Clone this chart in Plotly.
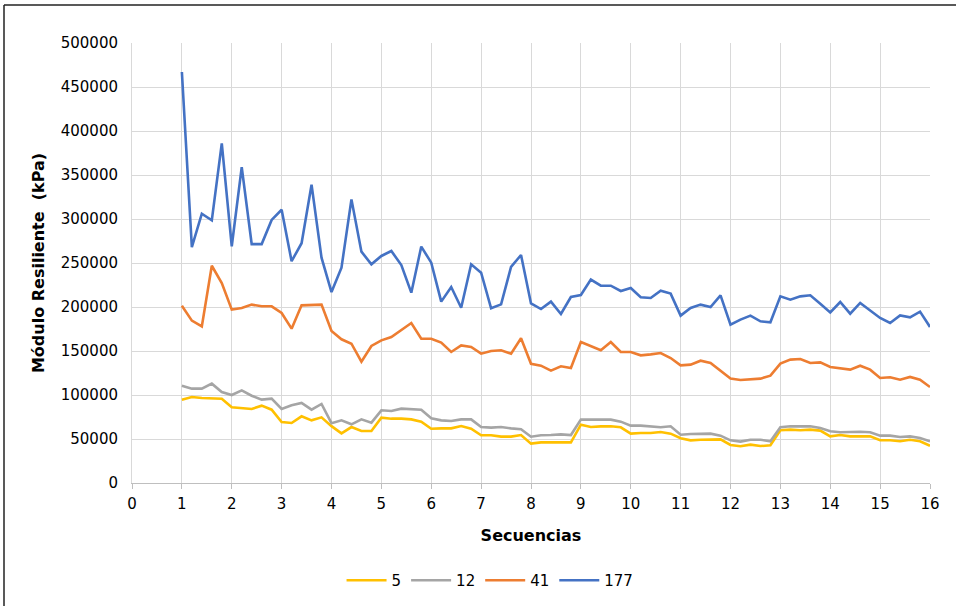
import plotly.graph_objects as go

# Secuencias (eje x)
secuencias = [1.0, 1.2, 1.4, 1.6, 1.8, 2.0, 2.2, 2.4, 2.6, 2.8,
              3.0, 3.2, 3.4, 3.6, 3.8, 4.0, 4.2, 4.4, 4.6, 4.8,
              5.0, 5.2, 5.4, 5.6, 5.8, 6.0, 6.2, 6.4, 6.6, 6.8,
              7.0, 7.2, 7.4, 7.6, 7.8, 8.0, 8.2, 8.4, 8.6, 8.8,
              9.0, 9.2, 9.4, 9.6, 9.8, 10.0, 10.2, 10.4, 10.6, 10.8,
              11.0, 11.2, 11.4, 11.6, 11.8, 12.0, 12.2, 12.4, 12.6, 12.8,
              13.0, 13.2, 13.4, 13.6, 13.8, 14.0, 14.2, 14.4, 14.6, 14.8,
              15.0, 15.2, 15.4, 15.6, 15.8, 16.0]

# Módulo resiliente (kPa) por serie
mr_5 = [94700, 97700, 96600, 96600, 95800, 86000, 85200, 84100, 87900, 83300,
        69300, 68200, 75800, 71200, 74600,
        64600, 56400, 63600, 59100, 59100, 74200, 73100, 73100, 72300, 69700,
        61700, 62100, 62100, 64800, 61700, 54200, 54200, 52700, 52700, 54500,
        44700, 46200, 46200, 47000, 46200, 66300, 63600, 64400, 64400, 63300,
        56100, 56800, 56800, 58000, 56100, 50800, 48500, 49200, 49600, 49600,
        43200, 41700, 43600, 42000, 42800, 59900, 60600, 59900, 60600, 59500,
        53000, 54500, 53000, 53000, 53000, 48500, 48500, 47400, 49200, 47400,
        42400]

mr_12 = [110600, 107200, 107200, 112900, 103400, 100000, 105300, 99200, 94700, 95800,
         84100, 88300, 90900, 83300, 89800,
         68000, 71200, 66700, 72300, 68600, 82600, 81800, 84500, 83700, 83300,
         73500, 71200, 70400, 72300, 72300, 63600, 62900, 63600, 62100, 61000,
         52600, 54200, 54500, 55300, 54500, 72000, 72000, 72000, 72000, 69700,
         65200, 65200, 64400, 63300, 64400, 54900, 55700, 55700, 56100, 53800,
         48500, 47000, 49200, 49200, 47400, 63300, 64400, 64400, 64400, 62500,
         58700, 57600, 58300, 58300, 57600, 53800, 53800, 52300, 53000, 51100,
         47400]

mr_41 = [201500, 184500, 178000, 246900, 227300, 197000, 198900, 202700, 200800, 200800,
         193200, 175400, 201900, 202700, 202700,
         172700, 163300, 158300, 137900, 155700, 162100, 165900, 173500, 181800, 164000,
         164000, 159500, 148900, 156400, 154500, 147000, 150000, 150800, 147000, 164400,
         135500, 133300, 127700, 132600, 130700, 160200, 155300, 150800, 160200, 148900,
         148900, 145100, 146200, 147700, 142000, 133700, 134500, 139000, 136400, 128000,
         118600, 117000, 118200, 118600, 122000, 135600, 140200, 140900, 136400, 137100,
         131800, 129900, 128800, 133300, 128800, 119300, 120100, 117400, 120500, 117400,
         109100]

mr_177 = [467000, 268000, 306000, 298500, 386000, 269000, 359000, 271500, 271500, 299000,
          310500, 252000, 272500, 339000, 256000,
          217000, 244700, 322300, 262900, 248500, 258000, 263600, 247700, 216300, 268600,
          250400, 206100, 222700, 199200, 248500, 239000, 198500, 203000, 245500, 259100,
          204000, 197700, 206100, 192100, 211400, 213600, 231100, 224200, 224200, 218200,
          221600, 211000, 210200, 218600, 215200, 190200, 198900, 202700, 200000, 213300,
          179900, 185600, 190200, 183700, 182600, 212100, 208300, 212100, 213300, 203800,
          193900, 205700, 192400, 204600, 196200, 187500, 181800, 190500, 188300, 194700,
          177300]

series = [("5", mr_5, "#FFC000"),
          ("12", mr_12, "#A5A5A5"),
          ("41", mr_41, "#ED7D31"),
          ("177", mr_177, "#4472C4")]

FONT = "DejaVu Sans"

fig = go.Figure()
for name, vals, color in series:
    fig.add_trace(go.Scatter(x=secuencias, y=vals, name=name, mode="lines",
                             line=dict(color=color, width=2.6)))

fig.update_layout(
    width=956, height=606,
    margin=dict(l=132, r=26, t=43, b=123),
    paper_bgcolor="white", plot_bgcolor="white",
    font=dict(family=FONT, size=15, color="#000000"),
    showlegend=True,
    # leyenda en coordenadas del contenedor para que no empuje el margen
    legend=dict(orientation="h", xref="container", yref="container",
                x=0.5126, y=0.042, xanchor="center", yanchor="middle",
                font=dict(size=15), itemwidth=40, tracegroupgap=0),
)

fig.update_xaxes(
    range=[0, 16], dtick=1, tick0=0, automargin=False,
    showgrid=True, gridcolor="#D9D9D9", gridwidth=1,
    showline=True, linecolor="#BFBFBF", linewidth=1,
    ticks="outside", ticklen=5, tickcolor="#BFBFBF", ticklabelstandoff=2,
    zeroline=False,
    title=dict(text="<b>Secuencias</b>", font=dict(size=16), standoff=17),
)
fig.update_yaxes(
    range=[0, 500000], dtick=50000, tickformat="d", automargin=False,
    showgrid=True, gridcolor="#D9D9D9", gridwidth=1,
    showline=True, linecolor="#D9D9D9", linewidth=1,
    ticks="", ticklabelstandoff=10,
    zeroline=False,
    title=dict(text="<b>Módulo Resiliente  (kPa)</b>", font=dict(size=16), standoff=12),
)

# marco del gráfico (bordes izquierdo y superior visibles)
fig.add_shape(type="line", xref="paper", yref="paper",
              x0=-0.1604, y0=1.0864, x1=-0.1604, y1=-0.30,
              line=dict(color="#222222", width=1.5))
fig.add_shape(type="line", xref="paper", yref="paper",
              x0=-0.1604, y0=1.0864, x1=1.04, y1=1.0864,
              line=dict(color="#222222", width=1.5))

# sin margen del body para que la figura quede en (0, 0)
fig.write_html("out.html", config={"displayModeBar": False},
               post_script="document.body.style.margin='0';")
